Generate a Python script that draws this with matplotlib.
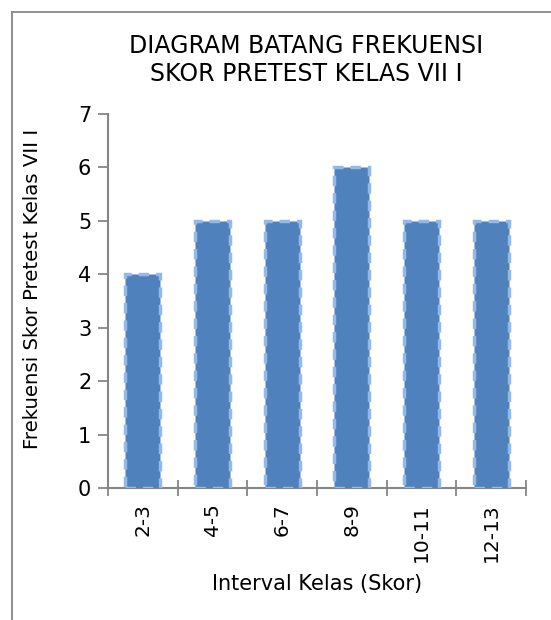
import matplotlib.pyplot as plt
from matplotlib.lines import Line2D

categories = ["2-3", "4-5", "6-7", "8-9", "10-11", "12-13"]
frequencies = [4, 5, 5, 6, 5, 5]

title = "DIAGRAM BATANG FREKUENSI\nSKOR PRETEST KELAS VII I"
xlabel = "Interval Kelas (Skor)"
ylabel = "Frekuensi Skor Pretest Kelas VII I"

axis_color = "#868686"

fig = plt.figure(figsize=(5.51, 6.2), dpi=100)
ax = fig.add_axes([108 / 551, 1 - 488 / 620, (526 - 108) / 551, (488 - 114) / 620])

x = list(range(len(categories)))
ax.bar(x, frequencies, width=0.5, color="#4F81BD", edgecolor="#95B9E6",
       linewidth=2.5, linestyle=(0, (3, 2)), zorder=3)

ax.set_xlim(-0.5, len(categories) - 0.5)
ax.set_ylim(0, 7)
ax.set_yticks(range(0, 8))

ax.set_xticks(x)
ax.set_xticklabels(categories, rotation=90, fontsize=14.5)
ax.set_xticks([i - 0.5 for i in range(len(categories) + 1)], minor=True)
ax.tick_params(axis="x", which="major", length=0, pad=11)
ax.tick_params(axis="x", which="minor", direction="inout", length=12,
               color=axis_color, width=1.3)
ax.tick_params(axis="y", labelsize=15, length=7, color=axis_color, width=1.3, pad=5)

for side in ["top", "right"]:
    ax.spines[side].set_visible(False)
for side in ["left", "bottom"]:
    ax.spines[side].set_color(axis_color)
    ax.spines[side].set_linewidth(1.5)

fig.text(306 / 551, 1 - 60 / 620, title, ha="center", va="center",
         fontsize=17, linespacing=1.2)
fig.text(317 / 551, 1 - 584 / 620, xlabel, ha="center", va="center", fontsize=15)
fig.text(33 / 551, 1 - 289 / 620, ylabel, ha="center", va="center",
         rotation=90, fontsize=14.2)

# chart area border (only left and top edges are visible in the crop)
fig.add_artist(Line2D([12 / 551, 12 / 551], [0, 1 - 12 / 620],
                      transform=fig.transFigure, color="#888888", linewidth=1.3))
fig.add_artist(Line2D([12 / 551, 1], [1 - 12 / 620, 1 - 12 / 620],
                      transform=fig.transFigure, color="#888888", linewidth=1.3))

fig.savefig("out.png", dpi=100)
